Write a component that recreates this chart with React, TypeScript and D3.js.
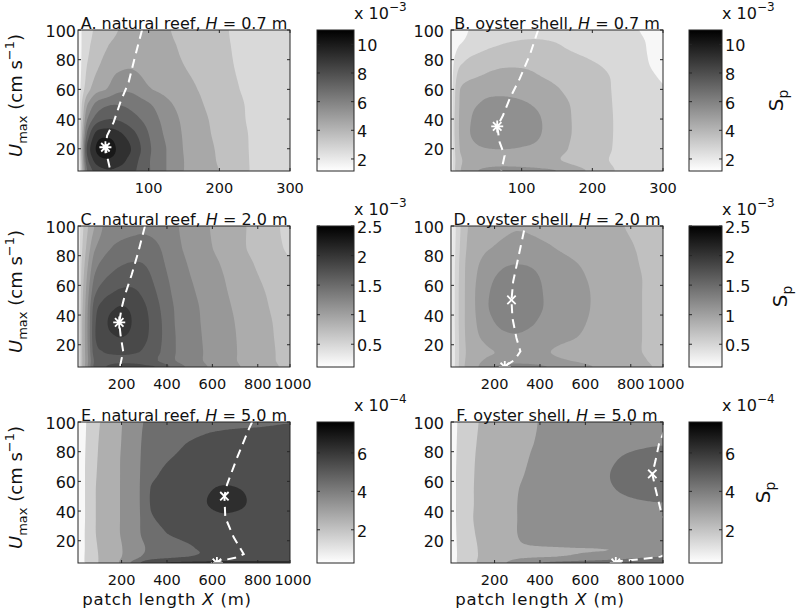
import React, { useMemo } from "react";
import * as d3 from "d3";

const FONT = "'DejaVu Sans', sans-serif";

// ---------------- data: grids of S_p ----------------
// A & B: x = patch length (m), y = U_max (cm/s), values x 10^-3
const xsAB = [0, 5, 12, 25, 40, 55, 75, 100, 125, 150, 175, 200, 225, 250, 300];
const ysA = [5, 12, 20, 30, 40, 50, 60, 75, 90, 100];
const spA = [
  [1.2, 3.5, 6.8, 8.4, 8.9, 8.8, 8.3, 7.1, 6.0, 5.0, 4.5, 3.98, 3.4, 2.85, 2.4],
  [1.2, 3.8, 7.5, 9.3, 9.8, 9.5, 8.6, 7.1, 6.0, 5.0, 4.45, 3.9, 3.35, 2.85, 2.4],
  [1.2, 4.0, 8.0, 10.0, 10.9, 9.9, 9.0, 7.2, 6.0, 4.95, 4.4, 3.85, 3.3, 2.85, 2.4],
  [1.2, 3.6, 7.0, 9.2, 9.6, 9.3, 8.4, 7.0, 5.8, 4.9, 4.3, 3.75, 3.25, 2.85, 2.4],
  [1.2, 3.2, 5.8, 7.4, 7.95, 7.9, 7.4, 6.6, 5.6, 4.8, 4.2, 3.7, 3.2, 2.8, 2.4],
  [1.2, 2.9, 4.8, 6.2, 6.8, 6.95, 6.7, 6.1, 5.25, 4.6, 4.05, 3.6, 3.15, 2.8, 2.4],
  [1.2, 2.4, 3.5, 4.6, 5.0, 5.7, 5.8, 5.1, 4.7, 4.3, 3.9, 3.45, 3.05, 2.75, 2.4],
  [1.2, 2.1, 3.0, 3.8, 4.4, 4.8, 4.95, 4.65, 4.35, 4.02, 3.7, 3.3, 2.95, 2.7, 2.4],
  [1.2, 2.0, 2.7, 3.4, 3.9, 4.3, 4.7, 4.55, 4.2, 3.85, 3.55, 3.2, 2.9, 2.65, 2.4],
  [1.2, 2.0, 2.6, 3.15, 3.6, 3.95, 4.5, 4.6, 4.1, 3.75, 3.45, 3.15, 2.88, 2.65, 2.4],
];
const ysB = [5, 12, 20, 30, 40, 50, 60, 68, 76, 84, 92, 100];
const spB = [
  [1.5, 2.9, 3.9, 4.6, 5.05, 5.25, 5.35, 5.3, 5.2, 5.02, 4.4, 3.8, 3.15, 2.7, 2.5],
  [1.5, 2.8, 3.8, 4.3, 4.5, 4.6, 4.6, 4.55, 4.4, 4.1, 3.7, 3.35, 2.98, 2.65, 2.4],
  [1.5, 2.9, 4.0, 4.6, 4.9, 5.0, 5.02, 4.95, 4.8, 4.35, 3.8, 3.4, 3.05, 2.6, 2.35],
  [1.5, 3.0, 4.1, 4.9, 5.4, 5.55, 5.55, 5.35, 5.05, 4.5, 3.9, 3.45, 3.08, 2.6, 2.3],
  [1.5, 3.0, 4.1, 4.85, 5.35, 5.5, 5.5, 5.3, 5.05, 4.5, 3.9, 3.45, 3.08, 2.6, 2.25],
  [1.5, 2.9, 4.05, 4.7, 5.02, 5.2, 5.2, 5.1, 4.85, 4.4, 3.85, 3.42, 3.06, 2.55, 2.2],
  [1.5, 2.8, 3.95, 4.45, 4.65, 4.75, 4.8, 4.7, 4.45, 4.08, 3.65, 3.35, 3.03, 2.5, 2.05],
  [1.45, 2.6, 3.5, 3.85, 4.05, 4.2, 4.3, 4.25, 4.05, 3.8, 3.5, 3.25, 3.0, 2.45, 1.95],
  [1.4, 2.3, 2.95, 3.35, 3.6, 3.8, 3.92, 3.92, 3.8, 3.6, 3.35, 3.1, 2.85, 2.35, 1.85],
  [1.35, 1.9, 2.4, 2.8, 3.05, 3.25, 3.38, 3.4, 3.3, 3.15, 3.02, 2.85, 2.65, 2.3, 1.8],
  [1.3, 1.65, 1.9, 2.2, 2.5, 2.75, 2.95, 3.05, 3.06, 2.98, 2.85, 2.7, 2.5, 2.25, 1.78],
  [1.3, 1.6, 1.8, 2.0, 2.3, 2.5, 2.7, 2.8, 2.8, 2.72, 2.6, 2.45, 2.3, 2.12, 1.75],
];

// C & D: values x 10^-3
const xsCD = [8, 25, 50, 80, 120, 160, 200, 250, 300, 360, 430, 500, 580, 660, 750, 850, 942];
const ysCD = [5, 9, 15, 25, 35, 45, 55, 65, 75, 85, 100];
const spC = [
  [0.3, 0.78, 1.2, 1.66, 1.78, 1.86, 1.9, 1.89, 1.85, 1.79, 1.55, 1.35, 1.2, 1.08, 0.97, 0.86, 0.75],
  [0.3, 0.77, 1.16, 1.62, 1.72, 1.75, 1.76, 1.75, 1.71, 1.6, 1.42, 1.29, 1.17, 1.06, 0.95, 0.84, 0.73],
  [0.3, 0.78, 1.18, 1.7, 1.8, 1.83, 1.84, 1.82, 1.77, 1.63, 1.42, 1.29, 1.17, 1.06, 0.95, 0.84, 0.72],
  [0.3, 0.78, 1.2, 1.76, 1.9, 1.97, 2.0, 1.93, 1.84, 1.66, 1.42, 1.29, 1.16, 1.06, 0.94, 0.83, 0.71],
  [0.3, 0.78, 1.2, 1.75, 1.93, 2.07, 2.15, 1.98, 1.86, 1.66, 1.41, 1.28, 1.15, 1.05, 0.93, 0.82, 0.7],
  [0.3, 0.75, 1.18, 1.7, 1.88, 1.97, 2.02, 1.95, 1.83, 1.63, 1.4, 1.27, 1.14, 1.03, 0.92, 0.8, 0.68],
  [0.3, 0.72, 1.12, 1.55, 1.72, 1.8, 1.85, 1.84, 1.75, 1.58, 1.37, 1.24, 1.12, 1.01, 0.9, 0.78, 0.66],
  [0.28, 0.68, 1.05, 1.42, 1.57, 1.65, 1.7, 1.72, 1.68, 1.52, 1.34, 1.21, 1.1, 0.99, 0.87, 0.75, 0.64],
  [0.27, 0.63, 0.97, 1.3, 1.45, 1.53, 1.58, 1.61, 1.59, 1.47, 1.3, 1.18, 1.07, 0.96, 0.84, 0.71, 0.61],
  [0.26, 0.58, 0.88, 1.17, 1.32, 1.41, 1.45, 1.48, 1.49, 1.42, 1.26, 1.15, 1.03, 0.92, 0.8, 0.67, 0.58],
  [0.25, 0.53, 0.78, 1.0, 1.21, 1.29, 1.33, 1.35, 1.36, 1.32, 1.23, 1.13, 1.01, 0.92, 0.8, 0.66, 0.56],
];
const spD = [
  [0.15, 0.41, 0.68, 0.87, 0.98, 1.07, 1.2, 1.27, 1.29, 1.27, 1.21, 1.12, 1.05, 0.98, 0.91, 0.84, 0.77],
  [0.15, 0.4, 0.67, 0.85, 0.96, 1.02, 1.08, 1.12, 1.13, 1.12, 1.07, 1.02, 0.98, 0.93, 0.88, 0.82, 0.75],
  [0.15, 0.4, 0.66, 0.83, 0.92, 0.97, 1.0, 1.04, 1.06, 1.05, 1.01, 0.97, 0.94, 0.9, 0.86, 0.8, 0.73],
  [0.15, 0.4, 0.67, 0.85, 0.97, 1.04, 1.12, 1.16, 1.17, 1.13, 1.07, 1.03, 0.99, 0.93, 0.87, 0.8, 0.73],
  [0.15, 0.41, 0.68, 0.86, 1.0, 1.11, 1.2, 1.26, 1.28, 1.23, 1.12, 1.07, 1.02, 0.95, 0.88, 0.8, 0.73],
  [0.15, 0.41, 0.68, 0.86, 1.02, 1.16, 1.26, 1.33, 1.36, 1.31, 1.17, 1.1, 1.04, 0.96, 0.88, 0.8, 0.73],
  [0.15, 0.41, 0.68, 0.86, 1.02, 1.15, 1.25, 1.32, 1.35, 1.3, 1.17, 1.1, 1.04, 0.96, 0.88, 0.8, 0.73],
  [0.15, 0.41, 0.67, 0.86, 1.0, 1.11, 1.2, 1.28, 1.3, 1.26, 1.15, 1.08, 1.02, 0.95, 0.87, 0.8, 0.73],
  [0.15, 0.4, 0.66, 0.85, 0.97, 1.05, 1.11, 1.17, 1.19, 1.17, 1.1, 1.04, 0.99, 0.93, 0.86, 0.79, 0.72],
  [0.14, 0.38, 0.63, 0.82, 0.92, 0.98, 1.01, 1.04, 1.06, 1.05, 1.02, 0.98, 0.94, 0.89, 0.84, 0.78, 0.71],
  [0.14, 0.36, 0.6, 0.79, 0.88, 0.93, 0.96, 0.98, 0.99, 0.98, 0.95, 0.92, 0.88, 0.85, 0.81, 0.76, 0.7],
];

// E & F: values x 10^-4
const xsE = [8, 25, 50, 80, 120, 160, 200, 250, 290, 330, 400, 480, 560, 640, 720, 800, 870, 942];
const ysE = [5, 9, 15, 25, 35, 45, 55, 65, 75, 85, 93, 100];
const spE = [
  [0.5, 0.85, 1.2, 1.75, 2.3, 2.7, 3.2, 4.3, 5.2, 5.8, 6.1, 6.2, 6.25, 6.3, 6.35, 6.35, 6.35, 6.35],
  [0.5, 0.85, 1.2, 1.75, 2.3, 2.7, 3.0, 3.5, 4.1, 4.5, 4.8, 5.0, 5.15, 5.22, 5.25, 5.25, 5.25, 5.25],
  [0.5, 0.82, 1.2, 1.8, 2.35, 2.72, 2.98, 3.35, 3.85, 4.25, 4.6, 4.88, 5.08, 5.18, 5.22, 5.22, 5.2, 5.2],
  [0.5, 0.82, 1.22, 1.9, 2.45, 2.8, 3.05, 3.45, 4.1, 4.6, 5.0, 5.22, 5.4, 5.5, 5.5, 5.45, 5.4, 5.38],
  [0.5, 0.8, 1.2, 1.9, 2.45, 2.8, 3.05, 3.45, 4.15, 4.9, 5.2, 5.35, 5.65, 5.85, 5.8, 5.65, 5.52, 5.45],
  [0.5, 0.8, 1.2, 1.9, 2.45, 2.8, 3.05, 3.45, 4.2, 5.08, 5.25, 5.45, 5.92, 6.2, 6.1, 5.8, 5.6, 5.5],
  [0.5, 0.8, 1.2, 1.9, 2.45, 2.8, 3.05, 3.45, 4.2, 5.05, 5.22, 5.4, 5.82, 6.08, 6.0, 5.75, 5.58, 5.48],
  [0.5, 0.8, 1.2, 1.85, 2.4, 2.78, 3.05, 3.45, 4.15, 4.8, 5.15, 5.3, 5.52, 5.65, 5.62, 5.5, 5.42, 5.38],
  [0.5, 0.8, 1.18, 1.8, 2.35, 2.75, 3.05, 3.45, 4.1, 4.6, 4.95, 5.15, 5.3, 5.38, 5.38, 5.32, 5.28, 5.25],
  [0.5, 0.78, 1.15, 1.75, 2.3, 2.72, 3.02, 3.42, 4.05, 4.4, 4.75, 5.0, 5.12, 5.18, 5.2, 5.18, 5.15, 5.15],
  [0.5, 0.76, 1.12, 1.7, 2.25, 2.7, 3.0, 3.4, 4.0, 4.3, 4.6, 4.85, 4.97, 5.03, 5.06, 5.07, 5.08, 5.1],
  [0.5, 0.75, 1.1, 1.65, 2.2, 2.65, 2.98, 3.38, 3.95, 4.2, 4.5, 4.72, 4.83, 4.88, 4.92, 4.94, 4.97, 4.99],
];
const xsF = [8, 25, 50, 80, 120, 160, 200, 250, 300, 350, 400, 480, 560, 640, 720, 800, 870, 942];
const ysF = [5, 9, 13, 18, 25, 35, 45, 55, 65, 75, 85, 100];
const spF = [
  [0.5, 0.88, 1.25, 1.65, 2.0, 2.35, 2.65, 3.0, 3.4, 3.8, 4.05, 4.25, 4.35, 4.4, 4.45, 4.48, 4.5, 4.5],
  [0.5, 0.87, 1.22, 1.6, 1.95, 2.25, 2.5, 2.72, 2.86, 2.92, 2.96, 3.05, 3.2, 3.4, 3.6, 3.8, 3.95, 4.05],
  [0.5, 0.87, 1.22, 1.6, 1.95, 2.25, 2.5, 2.72, 2.85, 2.9, 2.92, 2.94, 2.96, 2.98, 3.02, 3.06, 3.1, 3.15],
  [0.5, 0.88, 1.25, 1.65, 1.98, 2.3, 2.55, 2.8, 2.96, 3.02, 3.05, 3.08, 3.12, 3.16, 3.2, 3.24, 3.27, 3.3],
  [0.5, 0.9, 1.28, 1.7, 2.05, 2.38, 2.62, 2.85, 3.0, 3.08, 3.15, 3.25, 3.33, 3.4, 3.45, 3.5, 3.52, 3.55],
  [0.5, 0.92, 1.3, 1.75, 2.12, 2.42, 2.64, 2.86, 3.0, 3.1, 3.2, 3.35, 3.45, 3.55, 3.62, 3.68, 3.7, 3.72],
  [0.5, 0.92, 1.3, 1.72, 2.1, 2.4, 2.62, 2.85, 3.0, 3.12, 3.25, 3.45, 3.6, 3.72, 3.82, 3.9, 3.95, 3.98],
  [0.5, 0.92, 1.3, 1.72, 2.1, 2.38, 2.6, 2.82, 2.98, 3.1, 3.28, 3.5, 3.68, 3.85, 3.98, 4.12, 4.22, 4.28],
  [0.5, 0.92, 1.3, 1.7, 2.08, 2.35, 2.55, 2.78, 2.93, 3.05, 3.25, 3.5, 3.7, 3.88, 4.02, 4.18, 4.28, 4.35],
  [0.5, 0.9, 1.28, 1.68, 2.05, 2.32, 2.52, 2.74, 2.9, 3.0, 3.18, 3.42, 3.62, 3.8, 3.95, 4.1, 4.18, 4.22],
  [0.5, 0.88, 1.25, 1.65, 2.0, 2.28, 2.48, 2.7, 2.85, 2.95, 3.08, 3.3, 3.5, 3.65, 3.78, 3.88, 3.94, 3.98],
  [0.5, 0.85, 1.2, 1.58, 1.93, 2.2, 2.42, 2.62, 2.78, 2.9, 3.03, 3.22, 3.38, 3.5, 3.6, 3.68, 3.72, 3.75],
];

// contour levels, colour limits and colour-bar ticks
const levelsAB = [2, 3, 4, 5, 6, 7, 8, 9, 10];
const levelsCD = [0.2, 0.4, 0.6, 0.8, 1.0, 1.2, 1.4, 1.6, 1.8, 2.0, 2.2, 2.4];
const levelsEF = [1, 2, 3, 4, 5, 6, 7];
const climAB = [1.16, 11.0];
const climCD = [0.115, 2.5];
const climEF = [0.27, 7.61];
const cbTicksAB = [2, 4, 6, 8, 10];
const cbTicksCD = [0.5, 1, 1.5, 2, 2.5];
const cbTicksEF = [2, 4, 6];

// axis ticks
const yTicks = [20, 40, 60, 80, 100];
const xTicksAB = [100, 200, 300];
const xTickLabelsAB = ["100", "200", "300"];
const xTicksCF = [200, 400, 600, 800, 942];
const xTickLabelsCF = ["200", "400", "600", "800", "1000"];

// optimum curves (dashed) and markers
const optA = [[[90.6, 100], [81.2, 83], [71.7, 64.9], [60, 51.4], [50.5, 37.9], [41.2, 28.9], [38.8, 21], [42.1, 13.1], [45.9, 5]]];
const optB = [[[123.3, 100], [111.4, 83], [97.2, 67.2], [83, 53.6], [73.5, 42.4], [65.4, 35], [68.8, 24.4], [75.9, 15.4], [71.1, 5]]];
const optC = [[[303, 100], [274, 82.7], [244, 67], [215, 53.6], [200, 44.6], [189.6, 35], [195.4, 26.7], [207, 15.6], [192.5, 5]]];
const optD = [[[330, 97], [303.7, 78.2], [281.8, 62.5], [274.5, 50.2], [278.8, 37.9], [296.3, 24.5], [313.8, 15.6], [289, 9.9], [245.5, 5.5]]];
const optE = [[[775, 100], [760, 95], [709, 76], [665, 58], [653, 50], [657, 35.7], [694, 22.3], [738, 11], [700, 8.5], [620, 6]]];
const optF = [
  [[950, 95], [924, 85], [909, 74], [895, 65], [909, 55], [931, 41], [960, 30]],
  [[960, 11], [931, 9.3], [851, 7.7], [734, 6]],
];
const starsA = [[38.8, 21]];
const starsB = [[65.4, 35]];
const starsC = [[189.6, 35]];
const starsD = [[245, 5]];
const starsE = [[620, 5]];
const starsF = [[734, 5]];
const crossesD = [[274.5, 50.2]];
const crossesE = [[653, 50]];
const crossesF = [[895, 65]];

// ---------------- layout ----------------
const COLS = [
  { L: 78, R: 290, cbX: 317, cbW: 37, yTickX: 76 },
  { L: 451, R: 663, cbX: 689, cbW: 33, yTickX: 444 },
];
const ROW_TOP = [30, 226, 422];
const PLOT_H = 141;
const SP_X = [783, 787, 770];

type PanelDef = {
  id: string; col: number; row: number; label: string; hval: string;
  xs: number[]; ys: number[]; z: number[][]; xDom: number[];
  xTicks: number[]; xTickLabels: string[];
  levels: number[]; clim: number[]; cbTicks: number[]; exp: string;
  opt: number[][][]; stars: number[][]; crosses: number[][];
};

const PANELS: PanelDef[] = [
  { id: "A", col: 0, row: 0, label: "A. natural reef, ", hval: " = 0.7 m", xs: xsAB, ys: ysA, z: spA, xDom: [0, 300], xTicks: xTicksAB, xTickLabels: xTickLabelsAB, levels: levelsAB, clim: climAB, cbTicks: cbTicksAB, exp: "\u22123", opt: optA, stars: starsA, crosses: [] },
  { id: "B", col: 1, row: 0, label: "B. oyster shell, ", hval: " = 0.7 m", xs: xsAB, ys: ysB, z: spB, xDom: [0, 300], xTicks: xTicksAB, xTickLabels: xTickLabelsAB, levels: levelsAB, clim: climAB, cbTicks: cbTicksAB, exp: "\u22123", opt: optB, stars: starsB, crosses: [] },
  { id: "C", col: 0, row: 1, label: "C. natural reef, ", hval: " = 2.0 m", xs: xsCD, ys: ysCD, z: spC, xDom: [8, 942], xTicks: xTicksCF, xTickLabels: xTickLabelsCF, levels: levelsCD, clim: climCD, cbTicks: cbTicksCD, exp: "\u22123", opt: optC, stars: starsC, crosses: [] },
  { id: "D", col: 1, row: 1, label: "D. oyster shell, ", hval: " = 2.0 m", xs: xsCD, ys: ysCD, z: spD, xDom: [8, 942], xTicks: xTicksCF, xTickLabels: xTickLabelsCF, levels: levelsCD, clim: climCD, cbTicks: cbTicksCD, exp: "\u22123", opt: optD, stars: starsD, crosses: crossesD },
  { id: "E", col: 0, row: 2, label: "E. natural reef, ", hval: " = 5.0 m", xs: xsE, ys: ysE, z: spE, xDom: [8, 942], xTicks: xTicksCF, xTickLabels: xTickLabelsCF, levels: levelsEF, clim: climEF, cbTicks: cbTicksEF, exp: "\u22124", opt: optE, stars: starsE, crosses: crossesE },
  { id: "F", col: 1, row: 2, label: "F. oyster shell, ", hval: " = 5.0 m", xs: xsF, ys: ysF, z: spF, xDom: [8, 942], xTicks: xTicksCF, xTickLabels: xTickLabelsCF, levels: levelsEF, clim: climEF, cbTicks: cbTicksEF, exp: "\u22124", opt: optF, stars: starsF, crosses: crossesF },
];

// ---------------- helpers ----------------
function fracIndex(arr: number[], v: number) {
  const n = arr.length;
  if (v <= arr[0]) return 0;
  if (v >= arr[n - 1]) return n - 1;
  const i = d3.bisectRight(arr, v) - 1;
  return i + (v - arr[i]) / (arr[i + 1] - arr[i]);
}
function cr(p0: number, p1: number, p2: number, p3: number, t: number) {
  return 0.5 * (2 * p1 + (-p0 + p2) * t + (2 * p0 - 5 * p1 + 4 * p2 - p3) * t * t + (-p0 + 3 * p1 - 3 * p2 + p3) * t * t * t);
}
function sampleGrid(z: number[][], fy: number, fx: number) {
  const ny = z.length, nx = z[0].length;
  const iy = Math.min(Math.floor(fy), ny - 2), ix = Math.min(Math.floor(fx), nx - 2);
  const ty = fy - iy, tx = fx - ix;
  const g = (r: number, c: number) => z[Math.max(0, Math.min(ny - 1, r))][Math.max(0, Math.min(nx - 1, c))];
  const rows: number[] = [];
  for (let k = -1; k <= 2; k++) {
    const r = iy + k;
    rows.push(cr(g(r, ix - 1), g(r, ix), g(r, ix + 1), g(r, ix + 2), tx));
  }
  const v = cr(rows[0], rows[1], rows[2], rows[3], ty);
  const a = g(iy, ix), b = g(iy, ix + 1), c = g(iy + 1, ix), d = g(iy + 1, ix + 1);
  return Math.max(Math.min(a, b, c, d), Math.min(Math.max(a, b, c, d), v));
}
function grayFor(levels: number[], clim: number[], band: number) {
  const step = levels[1] - levels[0];
  const v = band === 0 ? levels[0] - 0.5 * step : levels[band - 1] + 0.75 * step;
  const g = Math.max(0, Math.min(1, 1 - (v - clim[0]) / (clim[1] - clim[0])));
  const c = Math.round((0.07 + 0.93 * g) * 255);
  return `rgb(${c},${c},${c})`;
}

function buildPanel(p: PanelDef) {
  const C = COLS[p.col];
  const T = ROW_TOP[p.row], B = T + PLOT_H;
  const xScale = d3.scaleLinear().domain(p.xDom).range([C.L, C.R]);
  const yScale = d3.scaleLinear().domain([5, 100]).range([B, T]);
  const n = 150, m = 100;
  const [x0, x1] = p.xDom;
  const y0 = 5, y1 = 100;
  const vals: number[] = new Array(n * m);
  for (let j = 0; j < m; j++) {
    const fy = fracIndex(p.ys, y0 + ((j + 0.5) * (y1 - y0)) / m);
    for (let i = 0; i < n; i++) {
      const fx = fracIndex(p.xs, x0 + ((i + 0.5) * (x1 - x0)) / n);
      vals[j * n + i] = sampleGrid(p.z, fy, fx);
    }
  }
  const polys = d3.contours().size([n, m]).thresholds(p.levels)(vals);
  const toPx = (pt: number[]) =>
    xScale(x0 + (pt[0] * (x1 - x0)) / n).toFixed(2) + "," + yScale(y0 + (pt[1] * (y1 - y0)) / m).toFixed(2);
  const paths = polys
    .map((mp: any) => {
      const band = p.levels.indexOf(mp.value) + 1;
      const d = mp.coordinates
        .map((poly: number[][][]) => poly.map((ring) => "M" + ring.map(toPx).join("L") + "Z").join(""))
        .join("");
      return { d, fill: grayFor(p.levels, p.clim, band), band };
    })
    .filter((o: any) => o.d.length > 0)
    .sort((a: any, b: any) => a.band - b.band);
  const cbScale = d3.scaleLinear().domain(p.clim).range([B, T]);
  return { p, C, T, B, xScale, yScale, paths, cbScale, bg: grayFor(p.levels, p.clim, 0) };
}

function Star({ x, y }: { x: number; y: number }) {
  const r = 6;
  const q = r * 0.7071;
  const d = `M${x - r},${y}L${x + r},${y}M${x},${y - r}L${x},${y + r}M${x - q},${y - q}L${x + q},${y + q}M${x - q},${y + q}L${x + q},${y - q}`;
  return <path d={d} stroke="#fff" strokeWidth={1.8} fill="none" />;
}
function Cross({ x, y }: { x: number; y: number }) {
  const q = 4.2;
  const d = `M${x - q},${y - q}L${x + q},${y + q}M${x - q},${y + q}L${x + q},${y - q}`;
  return <path d={d} stroke="#fff" strokeWidth={1.8} fill="none" />;
}

function PanelView({ P }: { P: any }) {
  const { p, C, T, B, xScale, yScale, paths, cbScale, bg } = P;
  const line = d3.line<number[]>().x((d) => xScale(d[0])).y((d) => yScale(d[1]));
  const cx = (C.L + C.R) / 2;
  const cy = (T + B) / 2;
  const cbR = C.cbX + C.cbW;
  const frame = "#262626";
  const nT = p.xTicks.length;
  return (
    <g>
      <g clipPath={`url(#clip${p.id})`}>
        <rect x={C.L} y={T} width={C.R - C.L} height={B - T} fill={bg} />
        {paths.map((o: any, i: number) => (
          <path key={i} d={o.d} fill={o.fill} />
        ))}
        {p.opt.map((seg: number[][], i: number) => (
          <path key={"o" + i} d={line(seg) || ""} fill="none" stroke="#fff" strokeWidth={2} strokeDasharray="9,6" />
        ))}
        {p.stars.map((s: number[], i: number) => (
          <Star key={"s" + i} x={xScale(s[0])} y={yScale(s[1])} />
        ))}
        {p.crosses.map((s: number[], i: number) => (
          <Cross key={"c" + i} x={xScale(s[0])} y={yScale(s[1])} />
        ))}
      </g>
      <rect x={C.L} y={T} width={C.R - C.L} height={B - T} fill="none" stroke={frame} strokeWidth={1} />
      {p.xTicks.map((t: number, i: number) => {
        const x = xScale(t);
        const shift = p.xTickLabels[i].length === 4 && i === nT - 1 ? 3 : 0;
        return (
          <g key={"xt" + i}>
            <line x1={x} x2={x} y1={B} y2={B - 3} stroke={frame} />
            <line x1={x} x2={x} y1={T} y2={T + 3} stroke={frame} />
            <text x={x + shift} y={B + 21.5} fontSize={14.5} textAnchor="middle" fill="#111">
              {p.xTickLabels[i]}
            </text>
          </g>
        );
      })}
      {yTicks.map((t: number, i: number) => {
        const y = yScale(t);
        return (
          <g key={"yt" + i}>
            <line x1={C.L} x2={C.L + 3} y1={y} y2={y} stroke={frame} />
            <line x1={C.R} x2={C.R - 3} y1={y} y2={y} stroke={frame} />
            <text x={C.yTickX} y={y + 1} fontSize={16} textAnchor="end" dominantBaseline="central" fill="#111">
              {t}
            </text>
          </g>
        );
      })}
      <text x={cx} y={T - 1.5} fontSize={16} textAnchor="middle" fill="#111">
        {p.label}
        <tspan fontStyle="italic">H</tspan>
        {p.hval}
      </text>
      {/* colour bar */}
      <rect x={C.cbX} y={T} width={C.cbW} height={B - T} fill="url(#cbgrad)" stroke={frame} />
      {p.cbTicks.map((t: number, i: number) => {
        const y = cbScale(t);
        return (
          <g key={"cb" + i}>
            <line x1={C.cbX} x2={C.cbX + 3} y1={y} y2={y} stroke={frame} />
            <line x1={cbR} x2={cbR - 3} y1={y} y2={y} stroke={frame} />
            <text x={cbR + 3} y={y + 1.5} fontSize={16} dominantBaseline="central" fill="#111">
              {String(t)}
            </text>
          </g>
        );
      })}
      <text x={cbR} y={T - 11.5} fontSize={16} fill="#111">
        x 10
        <tspan fontSize={12} dy={-8}>
          {p.exp}
        </tspan>
      </text>
      {p.col === 1 && (
        <text transform={`translate(${SP_X[p.row]},${cy}) rotate(-90)`} fontSize={20} textAnchor="middle" fill="#111">
          S
          <tspan fontSize={14} dy={5}>
            p
          </tspan>
        </text>
      )}
      {p.col === 0 && (
        <text transform={`translate(22,${cy - 5}) rotate(-90)`} fontSize={18} textAnchor="middle" fill="#111">
          <tspan fontStyle="italic">U</tspan>
          <tspan fontSize={13} dy={5}>
            max
          </tspan>
          <tspan dy={-5}> (cm s</tspan>
          <tspan fontSize={13} dy={-8}>
            {"\u22121"}
          </tspan>
          <tspan dy={8}>)</tspan>
        </text>
      )}
      {p.row === 2 && (
        <text x={cx - 17} y={605} fontSize={16.5} letterSpacing={0.8} textAnchor="middle" fill="#111">
          patch length <tspan fontStyle="italic">X</tspan> (m)
        </text>
      )}
    </g>
  );
}

export default function App() {
  const built = useMemo(() => PANELS.map(buildPanel), []);
  return (
    <div style={{ position: "absolute", left: 0, top: 0, width: 800, height: 612, background: "#fff" }}>
      <svg width={800} height={612} style={{ display: "block" }} fontFamily={FONT}>
        <defs>
          <linearGradient id="cbgrad" x1="0" y1="1" x2="0" y2="0">
            <stop offset="0" stopColor="#ffffff" />
            <stop offset="1" stopColor="#000000" />
          </linearGradient>
          {built.map((P) => (
            <clipPath id={`clip${P.p.id}`} key={P.p.id}>
              <rect x={P.C.L} y={P.T} width={P.C.R - P.C.L} height={P.B - P.T} />
            </clipPath>
          ))}
        </defs>
        <rect x={0} y={0} width={800} height={612} fill="#fff" />
        {built.map((P) => (
          <PanelView key={P.p.id} P={P} />
        ))}
      </svg>
    </div>
  );
}
